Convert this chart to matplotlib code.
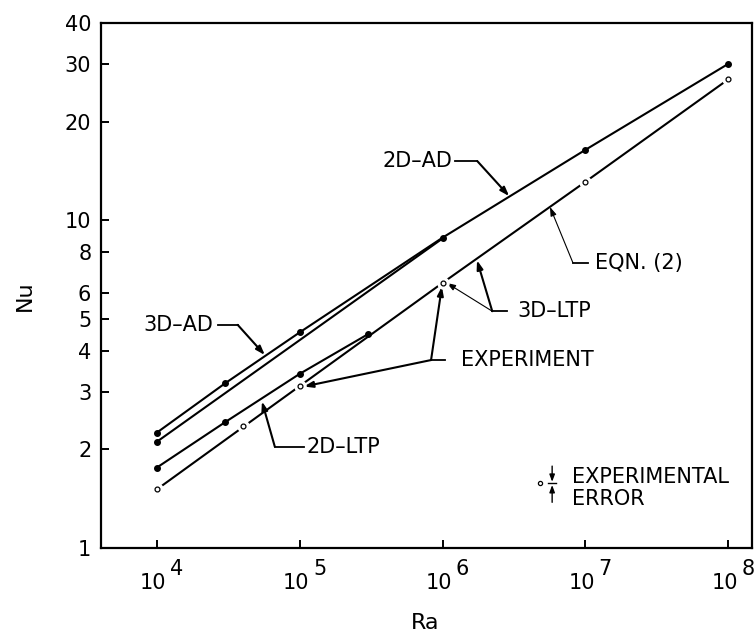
import matplotlib
matplotlib.use("Agg")
import matplotlib.pyplot as plt
from matplotlib.lines import Line2D
from matplotlib.ticker import FixedLocator, FixedFormatter, NullLocator

# ---------------- data ----------------
ra_2d_ad = [1e4, 3e4, 1e5, 1e6, 1e7, 1e8]
nu_2d_ad = [2.25, 3.18, 4.55, 8.85, 16.4, 30.0]

ra_3d_ad = [1e4, 1e6]
nu_3d_ad = [2.11, 8.80]

ra_2d_ltp = [1e4, 3e4, 1e5, 3e5]
nu_2d_ltp = [1.76, 2.42, 3.40, 4.49]

ra_eqn = [1e4, 1e5, 1e6, 1e7, 1e8]
nu_eqn = [1.51, 3.12, 6.44, 13.1, 26.9]

ra_exp = [1e4, 4e4, 1e5, 1e6, 1e7, 1e8]
nu_exp = [1.51, 2.35, 3.12, 6.44, 13.1, 26.9]

x_ticks = [1e4, 1e5, 1e6, 1e7, 1e8]
x_exps = ["4", "5", "6", "7", "8"]
y_ticks = [1, 2, 3, 4, 5, 6, 8, 10, 20, 30, 40]
y_labels = ["1", "2", "3", "4", "5", "6", "8", "10", "20", "30", "40"]

plt.rcParams['font.family'] = ['DejaVu Sans']

fig = plt.figure(figsize=(7.56, 6.33), dpi=100)
ax = fig.add_axes([101/756, 1-548/633, 651/756, 525/633])
ax.set_xscale('log')
ax.set_yscale('log')
ax.set_xlim(4.06e3, 1.47e8)
ax.set_ylim(1, 40)

lw = 1.5
ax.plot(ra_2d_ad, nu_2d_ad, '-', color='black', lw=lw, marker='o', ms=4, mfc='black', mec='black', zorder=3)
ax.plot(ra_3d_ad, nu_3d_ad, '-', color='black', lw=lw, marker='o', ms=4, markevery=[0], mfc='black', mec='black', zorder=3)
ax.plot(ra_2d_ltp, nu_2d_ltp, '-', color='black', lw=lw, marker='o', ms=4, mfc='black', mec='black', zorder=3)
ax.plot(ra_eqn, nu_eqn, '-', color='black', lw=lw, zorder=3)
# experiment points: open circles with small white halo
ax.plot(ra_exp, nu_exp, 'o', ms=8, mfc='white', mec='white', zorder=4)
ax.plot(ra_exp, nu_exp, 'o', ms=3.5, mfc='white', mec='black', mew=0.9, zorder=5)

# axes style
for s in ax.spines.values():
    s.set_linewidth(1.6)
ax.yaxis.set_major_locator(FixedLocator(y_ticks))
ax.yaxis.set_major_formatter(FixedFormatter(y_labels))
ax.yaxis.set_minor_locator(NullLocator())
ax.xaxis.set_major_locator(FixedLocator(x_ticks))
ax.xaxis.set_minor_locator(NullLocator())
ax.set_xticklabels([])
ax.tick_params(axis='both', direction='in', length=6, width=1.4, top=False, right=False)
ax.tick_params(axis='y', labelsize=15, pad=7)

# x tick labels: 10 with full-size raised exponent
for t, e in zip(x_ticks, x_exps):
    ax.annotate("10", xy=(t, 0), xycoords=('data', 'axes fraction'),
                xytext=(-2.5, -25.5), textcoords='offset points',
                ha='center', va='center', fontsize=15)
    ax.annotate(e, xy=(t, 0), xycoords=('data', 'axes fraction'),
                xytext=(9.5, -15), textcoords='offset points',
                ha='left', va='center', fontsize=15)

fig.text(425/756, 1-623/633, "Ra", ha='center', va='center', fontsize=16)
fig.text(25/756, 1-296/633, "Nu", ha='center', va='center', rotation=90, fontsize=16)

# --------------- leader annotations ---------------
HEAD = '-|>,head_length=0.35,head_width=0.12'

def leader(text, tx, ty, ha, h0, h1, tips):
    ax.text(tx, ty, text, transform=ax.transAxes, ha=ha, va='center', fontsize=15)
    ax.add_line(Line2D([h0, h1], [ty, ty], transform=ax.transAxes, color='black', lw=1.3))
    for (xd, yd, thick) in tips:
        ax.annotate("", xy=(xd, yd), xycoords='data', xytext=(h1, ty), textcoords='axes fraction',
                    arrowprops=dict(arrowstyle=HEAD,
                                    color='black', lw=1.5 if thick else 0.8,
                                    shrinkA=0, shrinkB=0, mutation_scale=15))

leader("2D\u2013AD", 0.539, 0.737, 'right', 0.544, 0.578, [(2.93e6, 11.85, True)])
leader("EQN. (2)", 0.759, 0.543, 'left', 0.748, 0.725, [(5.66e6, 10.98, False)])
leader("3D\u2013LTP", 0.639, 0.451, 'left', 0.624, 0.601, [(1.745e6, 7.55, True), (1.07e6, 6.44, False)])
leader("EXPERIMENT", 0.553, 0.358, 'left', 0.528, 0.507, [(0.99e6, 6.28, True), (1.07e5, 3.11, True)])
leader("3D\u2013AD", 0.172, 0.425, 'right', 0.180, 0.210, [(5.7e4, 3.88, True)])
leader("2D\u2013LTP", 0.3164, 0.193, 'left', 0.312, 0.267, [(5.44e4, 2.80, True)])

# experimental error legend
ax.plot([0.674], [0.123], 'o', ms=3, mfc='white', mec='black', mew=0.9, transform=ax.transAxes, clip_on=False)
bx = 0.693
ax.add_line(Line2D([bx - 0.006, bx + 0.006], [0.123, 0.123], transform=ax.transAxes, color='black', lw=1.0))
ax.annotate("", xy=(bx, 0.126), xycoords='axes fraction', xytext=(bx, 0.156), textcoords='axes fraction',
            arrowprops=dict(arrowstyle='-|>,head_length=0.35,head_width=0.13', color='black', lw=1.0,
                            shrinkA=0, shrinkB=0, mutation_scale=12))
ax.annotate("", xy=(bx, 0.120), xycoords='axes fraction', xytext=(bx, 0.087), textcoords='axes fraction',
            arrowprops=dict(arrowstyle='-|>,head_length=0.35,head_width=0.13', color='black', lw=1.0,
                            shrinkA=0, shrinkB=0, mutation_scale=12))
ax.text(0.7235, 0.136, "EXPERIMENTAL", transform=ax.transAxes, ha='left', va='center', fontsize=15)
ax.text(0.7235, 0.093, "ERROR", transform=ax.transAxes, ha='left', va='center', fontsize=15)

fig.savefig("out.png", dpi=100)
